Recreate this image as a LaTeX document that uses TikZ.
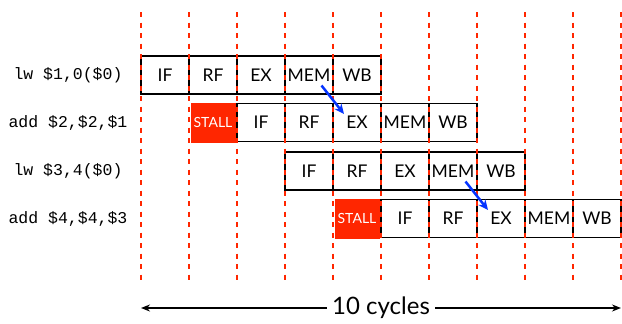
\documentclass[tikz,border=0pt]{standalone}
\usepackage{fontspec}
\setmainfont{Lato}
\setmonofont{Liberation Mono}
\usetikzlibrary{positioning, calc, arrows.meta}
\definecolor{stallred}{HTML}{FF2600}
\definecolor{fwdblue}{HTML}{0433FF}

\begin{document}
\begin{tikzpicture}[x=1pt, y=-1pt,
    stage/.style={draw, line width=1.1pt, minimum width=48pt, minimum height=38pt,
      inner sep=0pt, outer sep=0pt, font=\fontsize{17.5}{17.5}\selectfont},
    stallbox/.style={fill=stallred, text=white, minimum width=45pt, minimum height=40pt,
      inner sep=0pt, outer sep=0pt, font=\fontsize{14}{14}\selectfont},
    cycleline/.style={stallred, dash pattern=on 5pt off 5.5pt, line width=2pt},
    instr/.style={font=\ttfamily\fontsize{16.5}{17}\selectfont},
    fwd/.style={fwdblue, line width=2.5pt, -{Stealth[length=10pt, width=9pt]}}]
    \useasboundingbox (0,0) rectangle (622,324);

    % lw $1,0($0)
    \node[instr] (lwa) at (68,75) {lw \$1,0(\$0)};
    \node[stage] (if1) at (165,75) {IF};
    \node[stage, right=0pt of if1] (rf1) {RF};
    \node[stage, right=0pt of rf1] (ex1) {EX};
    \node[stage, right=0pt of ex1] (mem1) {MEM};
    \node[stage, right=0pt of mem1] (wb1) {WB};

    % add $2,$2,$1 (one stall)
    \node[instr] (adda) at (68,122.5) {add \$2,\$2,\$1};
    \node[stallbox] (st2) at (213,122.5) {STALL};
    \node[stage] (if2) at (261,122.5) {IF};
    \node[stage, right=0pt of if2] (rf2) {RF};
    \node[stage, right=0pt of rf2] (ex2) {EX};
    \node[stage, right=0pt of ex2] (mem2) {MEM};
    \node[stage, right=0pt of mem2] (wb2) {WB};

    % lw $3,4($0)
    \node[instr] (lwb) at (68,171) {lw \$3,4(\$0)};
    \node[stage] (if3) at (309,171) {IF};
    \node[stage, right=0pt of if3] (rf3) {RF};
    \node[stage, right=0pt of rf3] (ex3) {EX};
    \node[stage, right=0pt of ex3] (mem3) {MEM};
    \node[stage, right=0pt of mem3] (wb3) {WB};

    % add $4,$4,$3 (one stall)
    \node[instr] (addb) at (68,218.5) {add \$4,\$4,\$3};
    \node[stallbox] (st4) at (357,218.5) {STALL};
    \node[stage] (if4) at (405,218.5) {IF};
    \node[stage, right=0pt of if4] (rf4) {RF};
    \node[stage, right=0pt of rf4] (ex4) {EX};
    \node[stage, right=0pt of ex4] (mem4) {MEM};
    \node[stage, right=0pt of mem4] (wb4) {WB};

    % Cycle boundaries
    \foreach \i in {0,...,10}
      \draw[cycleline] (141+48*\i,12) -- (141+48*\i,281);

    % Forwarding MEM -> EX
    \draw[fwd] ($(mem1.center)+(12.5,10.5)$) -- ($(ex2.center)+(-13,-8.5)$);
    \draw[fwd] ($(mem3.center)+(12.5,10.5)$) -- ($(ex4.center)+(-13,-8.5)$);

    % Total length
    \coordinate (tl) at (141,308);
    \coordinate (tr) at (621,308);
    \node[font=\fontsize{24}{24}\selectfont, inner sep=5pt] (cyc) at ($(tl)!0.5!(tr)$) {10 cycles};
    \draw[line width=1.5pt, -{Stealth[length=9pt, width=7pt]}] (cyc) -- (tl);
    \draw[line width=1.5pt, -{Stealth[length=9pt, width=7pt]}] (cyc) -- (tr);
\end{tikzpicture}
\end{document}
